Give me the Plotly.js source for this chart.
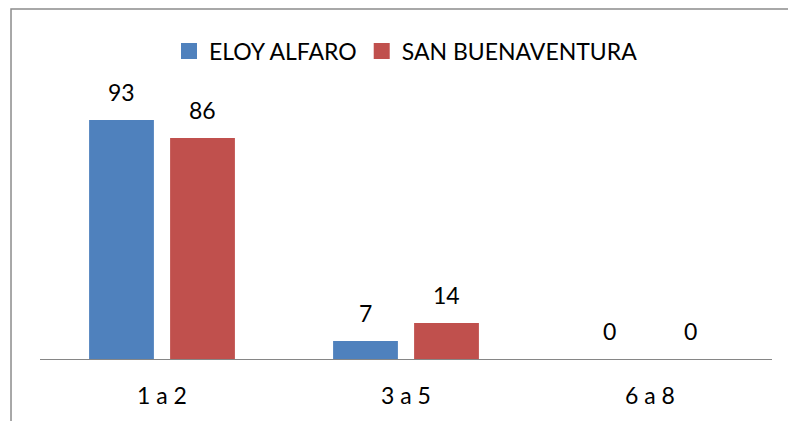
<!DOCTYPE html>
<html>
<head>
<meta charset="utf-8">
<script src="https://cdn.plot.ly/plotly-3.0.1.min.js"></script>
<style>
html,body{margin:0;padding:0;background:#fff;}
#chart{width:788px;height:421px;}
</style>
</head>
<body>
<div id="chart"></div>
<script>
const categories = ["1 a 2", "3 a 5", "6 a 8"];
const seriesNames = ["ELOY ALFARO", "SAN BUENAVENTURA"];
const eloyAlfaro = [93, 7, 0];
const sanBuenaventura = [86, 14, 0];
const colors = ["#4F81BD", "#C0504D"];

const FONT = "Lato, 'Open Sans', sans-serif";
const FS = 23;
const values = [eloyAlfaro, sanBuenaventura];

const traces = values.map((v, i) => ({
  type: "bar",
  x: categories,
  y: v,
  name: seriesNames[i],
  marker: {color: colors[i]},
  showlegend: false,
  hoverinfo: "x+y+name"
}));

// legend entries with larger square swatches
seriesNames.forEach((n, i) => {
  traces.push({
    type: "scatter",
    mode: "markers",
    x: [null],
    y: [null],
    name: n,
    marker: {symbol: "square", size: 16, color: colors[i]},
    showlegend: true
  });
});

// data labels as annotations, offset to each bar's group slot
const annotations = [];
values.forEach((v, i) => {
  v.forEach((val, j) => {
    annotations.push({
      x: categories[j],
      y: val,
      xref: "x",
      yref: "y",
      text: String(val),
      showarrow: false,
      xshift: (i === 0 ? -40.5 : 40.5),
      yanchor: "bottom",
      yshift: 12,
      font: {family: FONT, size: FS, color: "#000"}
    });
  });
});

const layout = {
  width: 788,
  height: 421,
  margin: {l: 40, r: 16, t: 102, b: 62},
  paper_bgcolor: "#fff",
  plot_bgcolor: "#fff",
  barmode: "group",
  bargap: 0.336,
  bargroupgap: 0.2,
  font: {family: FONT, size: FS, color: "#000"},
  xaxis: {
    type: "category",
    showline: true,
    linecolor: "#868686",
    linewidth: 1,
    ticks: "",
    showgrid: false,
    zeroline: false,
    tickfont: {family: FONT, size: FS, color: "#000"},
    ticklabelstandoff: 16
  },
  yaxis: {
    range: [0, 100],
    visible: false,
    showgrid: false,
    zeroline: false
  },
  showlegend: true,
  legend: {
    orientation: "h",
    x: 0.5,
    xanchor: "center",
    y: 1.198,
    yanchor: "middle",
    font: {family: FONT, size: FS, color: "#000"},
    bgcolor: "rgba(0,0,0,0)"
  },
  annotations: annotations,
  shapes: [{
    type: "path",
    xref: "paper",
    yref: "paper",
    path: "M -0.0396,-0.3 L -0.0396,1.362 L 1.05,1.362",
    line: {color: "#8c8c8c", width: 1.5}
  }]
};

Plotly.newPlot("chart", traces, layout, {displayModeBar: false, staticPlot: true});
</script>
</body>
</html>
